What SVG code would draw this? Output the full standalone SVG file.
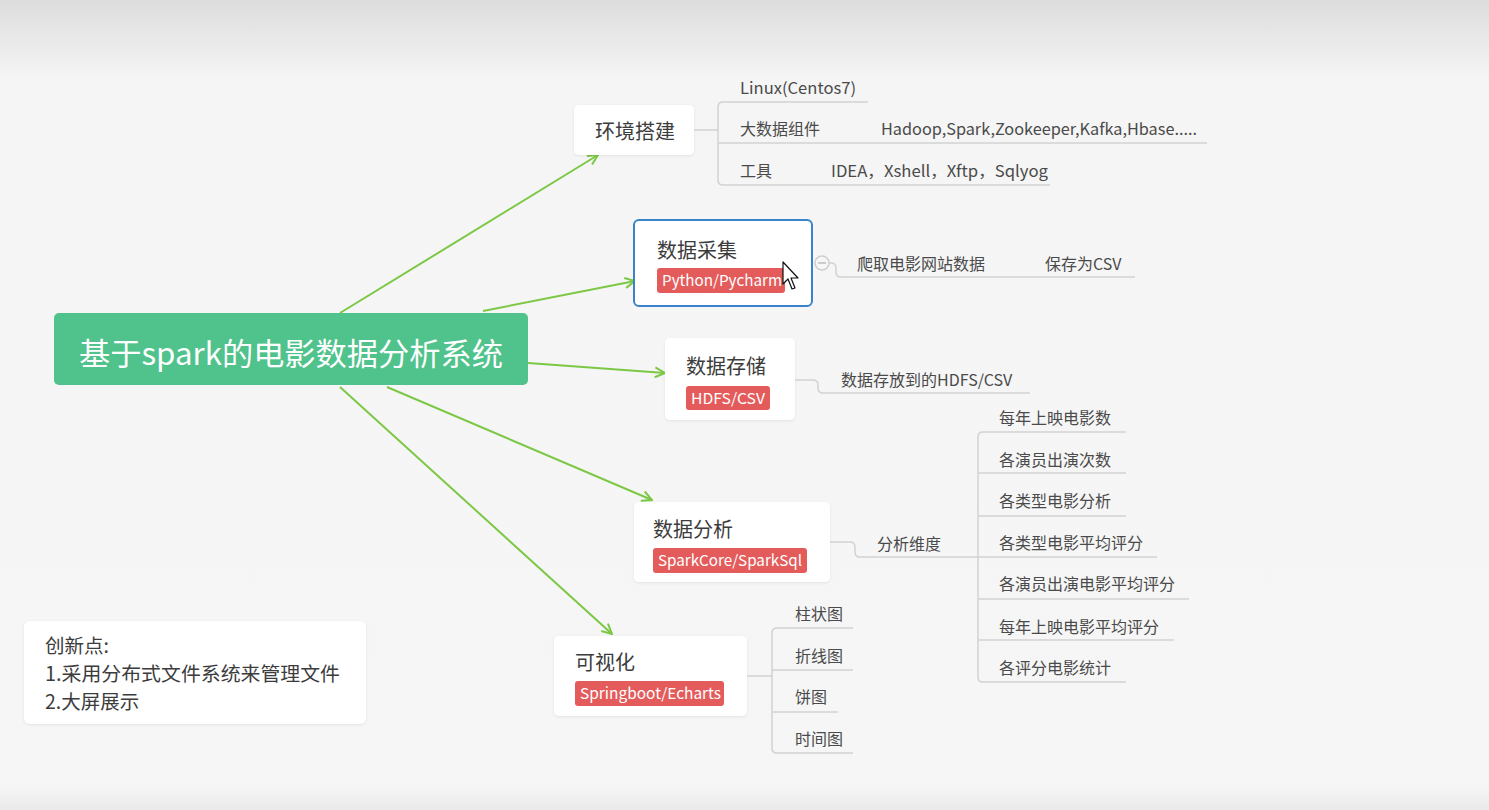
<svg xmlns="http://www.w3.org/2000/svg" width="1489" height="810" viewBox="0 0 1489 810">
<defs>
<linearGradient id="bg" x1="0" y1="0" x2="0" y2="1">
<stop offset="0" stop-color="#dcdcdc"/>
<stop offset="0.095" stop-color="#f5f5f5"/>
<stop offset="0.97" stop-color="#f6f6f6"/>
<stop offset="1" stop-color="#eaeaea"/>
</linearGradient>
<filter id="sh" x="-10%" y="-10%" width="120%" height="130%">
<feDropShadow dx="0" dy="1" stdDeviation="1.5" flood-color="#000" flood-opacity="0.08"/>
</filter>
<marker id="arr" viewBox="0 0 12 12" refX="11" refY="6" markerWidth="12" markerHeight="12" markerUnits="userSpaceOnUse" orient="auto">
<path d="M1,1 L11,6 L1,11" fill="none" stroke="#7cc845" stroke-width="2"/>
</marker>
<style>
.box{fill:#ffffff;filter:url(#sh)}
.title{font-family:"Noto Sans CJK SC","Noto Sans",sans-serif;font-size:20px;fill:#3c3c3c}
.tag{fill:#e45b5b}
.tagt{font-family:"Noto Sans CJK SC","Noto Sans",sans-serif;font-size:15px;fill:#ffffff}
.item{font-family:"Noto Sans CJK SC","Noto Sans",sans-serif;font-size:16px;fill:#4a4a4a}
.br{fill:none;stroke:#d2d2d2;stroke-width:1.5}
.conn{fill:none;stroke:#7cc845;stroke-width:2;marker-end:url(#arr)}
</style>
</defs>
<rect x="0" y="0" width="1489" height="810" fill="url(#bg)"/>

<g id="connectors">
<path class="conn" d="M340,313 L598,155"/>
<path class="conn" d="M483,311 L635,281"/>
<path class="conn" d="M528,363 L665,373"/>
<path class="conn" d="M387,387 L652,500"/>
<path class="conn" d="M340,387 L612,634"/>
</g>

<g id="root">
<rect x="54" y="313" width="474" height="72" rx="5" fill="#50c28b"/>
<text x="79" y="365" font-family="Noto Sans CJK SC, Noto Sans, sans-serif" font-size="31" fill="#ffffff" textLength="424" lengthAdjust="spacingAndGlyphs">基于spark的电影数据分析系统</text>
</g>

<g id="env">
<rect class="box" x="574" y="105" width="120" height="50" rx="5"/>
<text class="title" x="595" y="139">环境搭建</text>
<path class="br" d="M694,130 H718"/>
<path class="br" d="M868,102 H723 Q718,102 718,107 V180 Q718,185 723,185 H1050"/>
<path class="br" d="M718,143 H1207"/>
<text class="item" x="740" y="94" textLength="116" lengthAdjust="spacingAndGlyphs">Linux(Centos7)</text>
<text class="item" x="740" y="135">大数据组件</text>
<text class="item" x="881" y="135" textLength="316" lengthAdjust="spacingAndGlyphs">Hadoop,Spark,Zookeeper,Kafka,Hbase.....</text>
<text class="item" x="740" y="177">工具</text>
<text class="item" x="831" y="177" textLength="217" lengthAdjust="spacingAndGlyphs">IDEA，Xshell，Xftp，Sqlyog</text>
</g>

<g id="collect">
<rect x="634" y="220" width="178" height="86" rx="5" fill="#ffffff" stroke="#3a83c8" stroke-width="2"/>
<text class="title" x="657" y="258">数据采集</text>
<rect class="tag" x="657" y="268" width="128" height="25" rx="3"/>
<text class="tagt" x="662" y="286" textLength="120" lengthAdjust="spacingAndGlyphs">Python/Pycharm</text>
<path class="br" d="M829,263 H831 Q836,263 836,268 V272 Q836,277 841,277 H1135"/>
<circle cx="822" cy="263" r="7" fill="#f6f6f6" stroke="#cfcfcf" stroke-width="1.5"/>
<path d="M818,263 H826" stroke="#bdbdbd" stroke-width="1.5"/>
<text class="item" x="857" y="270">爬取电影网站数据</text>
<text class="item" x="1045" y="270">保存为CSV</text>
<path d="M783,262 L783,284 L788,279 L792,289 L795,288 L791,278 L798,278 Z" fill="#ffffff" stroke="#111" stroke-width="1.2" stroke-linejoin="round"/>
</g>

<g id="store">
<rect class="box" x="665" y="338" width="130" height="82" rx="5"/>
<text class="title" x="686" y="374">数据存储</text>
<rect class="tag" x="686" y="386" width="84" height="24" rx="3"/>
<text class="tagt" x="691" y="404" textLength="74" lengthAdjust="spacingAndGlyphs">HDFS/CSV</text>
<path class="br" d="M795,380 H813 Q818,380 818,385 V388 Q818,393 823,393 H1030"/>
<text class="item" x="841" y="386">数据存放到的HDFS/CSV</text>
</g>

<g id="analysis">
<rect class="box" x="634" y="502" width="196" height="80" rx="5"/>
<text class="title" x="653" y="537">数据分析</text>
<rect class="tag" x="653" y="548" width="154" height="25" rx="3"/>
<text class="tagt" x="658" y="566" textLength="144" lengthAdjust="spacingAndGlyphs">SparkCore/SparkSql</text>
<path class="br" d="M830,542 H850 Q855,542 855,547 V552 Q855,557 860,557 H1157"/>
<text class="item" x="877" y="550">分析维度</text>
<path class="br" d="M1126,432 H983 Q978,432 978,437 V677 Q978,682 983,682 H1126"/>
<path class="br" d="M978,473 H1126"/>
<path class="br" d="M978,516 H1126"/>
<path class="br" d="M978,599 H1189"/>
<path class="br" d="M978,640 H1174"/>
<text class="item" x="999" y="424">每年上映电影数</text>
<text class="item" x="999" y="466">各演员出演次数</text>
<text class="item" x="999" y="507">各类型电影分析</text>
<text class="item" x="999" y="549">各类型电影平均评分</text>
<text class="item" x="999" y="590">各演员出演电影平均评分</text>
<text class="item" x="999" y="633">每年上映电影平均评分</text>
<text class="item" x="999" y="674">各评分电影统计</text>
</g>

<g id="visual">
<rect class="box" x="554" y="636" width="193" height="80" rx="5"/>
<text class="title" x="575" y="670">可视化</text>
<rect class="tag" x="575" y="681" width="149" height="25" rx="3"/>
<text class="tagt" x="580" y="699" textLength="141" lengthAdjust="spacingAndGlyphs">Springboot/Echarts</text>
<path class="br" d="M747,676 H772"/>
<path class="br" d="M853,628 H777 Q772,628 772,633 V748 Q772,753 777,753 H853"/>
<path class="br" d="M772,670 H853"/>
<path class="br" d="M772,712 H838"/>
<text class="item" x="795" y="620">柱状图</text>
<text class="item" x="795" y="662">折线图</text>
<text class="item" x="795" y="703">饼图</text>
<text class="item" x="795" y="745">时间图</text>
</g>

<g id="note">
<rect class="box" x="24" y="621" width="342" height="103" rx="6"/>
<text font-family="Noto Sans CJK SC, Noto Sans, sans-serif" font-size="19.5" fill="#3c3c3c">
<tspan x="45" y="653">创新点:</tspan>
</text>
<text font-family="Noto Sans CJK SC, Noto Sans, sans-serif" font-size="19.5" fill="#3c3c3c" x="45" y="681" textLength="295" lengthAdjust="spacingAndGlyphs">1.采用分布式文件系统来管理文件</text>
<text font-family="Noto Sans CJK SC, Noto Sans, sans-serif" font-size="19.5" fill="#3c3c3c" x="45" y="709">2.大屏展示</text>
</g>
</svg>
